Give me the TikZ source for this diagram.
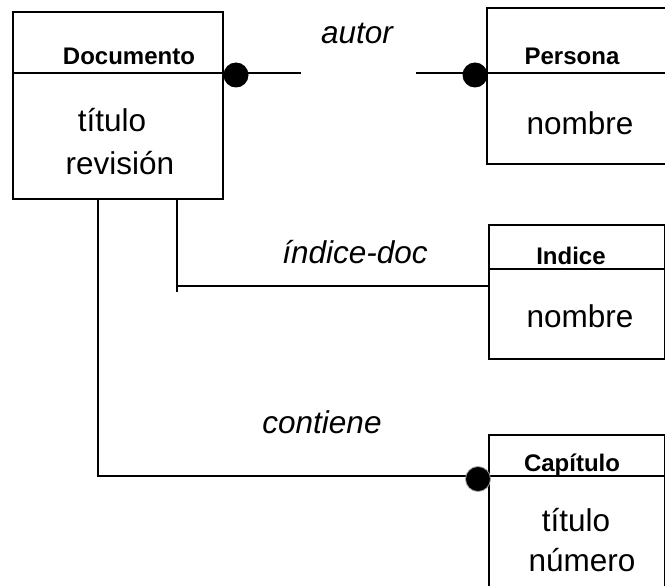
\documentclass[tikz,border=0pt]{standalone}
\usepackage{fontspec}
\setmainfont{Liberation Sans}
\begin{document}
\begin{tikzpicture}[x=1pt,y=-1pt,
  box/.style={draw=black,line width=2.7pt},
  rule/.style={draw=black,line width=2.7pt},
  link/.style={draw=black,line width=2.7pt},
  dot/.style={circle,fill=black,inner sep=0pt,minimum size=25pt},
  ename/.style={font=\fontsize{24}{27}\selectfont\bfseries,inner sep=0pt},
  attr/.style={font=\fontsize{31.5}{36}\selectfont,inner sep=0pt},
  rel/.style={font=\fontsize{31.5}{36}\selectfont\itshape,inner sep=0pt}]
\clip (0,0) rectangle (665,586);
\fill[white] (0,0) rectangle (665,586);

% Documento
\draw[box] (13,12) rectangle (223,199);
\draw[rule] (13,73) -- (223,73);
\node[ename] (docn) at (129,56) {Documento};
\node[attr] (doct) at (112,120) {título};
\node[attr] (docr) at (120,163) {revisión};

% Persona
\draw[box] (487,8) rectangle (672,164);
\draw[rule] (487,73) -- (672,73);
\node[ename] (pern) at (572,56) {Persona};
\node[attr] (pera) at (580,123) {nombre};

% Indice
\draw[box] (489,225) rectangle (665.5,359);
\draw[rule] (489,269) -- (665.5,269);
\node[ename] (indn) at (571,256) {Indice};
\node[attr] (inda) at (580,316) {nombre};

% Capitulo
\draw[box] (489,435) rectangle (665.5,600);
\draw[rule] (489,476) -- (665.5,476);
\node[ename] (capn) at (572,465) {Capítulo};
\node[attr] (capt) at (576,520) {título};
\node[attr] (capu) at (582,560) {número};

% autor
\node[dot] (d1) at (236,75) {};
\node[dot] (d2) at (475,75) {};
\coordinate (a1) at (301,73);
\coordinate (a2) at (416,73);
\draw[link] (223,73) -- (a1);
\draw[link] (a2) -- (487,73);
\node[rel] (autor) at (357,33) {autor};

% indice-doc
\coordinate (i0) at (177,199);
\coordinate (i1) at (177,292);
\coordinate (i2) at (177,286);
\coordinate (i3) at (489,286);
\draw[link] (i0) -- (i1);
\draw[link] (i2) -- (i3);
\node[rel] (idoc) at (355,252) {índice-doc};

% contiene
\coordinate (c0) at (98,199);
\coordinate (c1) at (98,476);
\coordinate (c2) at (489,476);
\draw[link] (c0) -- (c1) -- (c2);
\node[dot,draw=gray!70,line width=0.8pt] (d3) at (478,479) {};
\node[rel] (cont) at (322,422) {contiene};
\end{tikzpicture}
\end{document}
